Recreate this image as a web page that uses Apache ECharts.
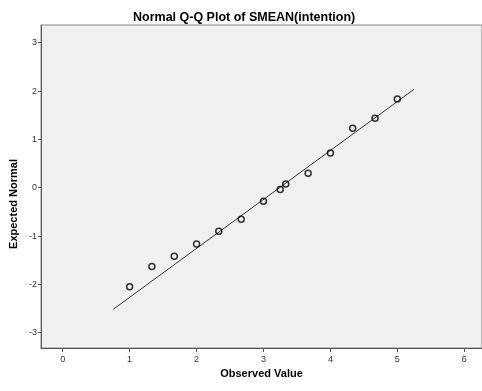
<!DOCTYPE html>
<html>
<head>
<meta charset="utf-8">
<script src="https://cdn.jsdelivr.net/npm/echarts@6/dist/echarts.min.js"></script>
<style>
  html, body { margin: 0; padding: 0; background: #ffffff; }
  #chart { width: 482px; height: 391px; }
</style>
</head>
<body>
<div id="chart"></div>
<script>
// Observed scale means and their expected normal quantiles
const observed = [1, 1.333, 1.667, 2, 2.333, 2.667, 3, 3.25, 3.333, 3.667, 4, 4.333, 4.667, 5];
const expected = [-2.05, -1.63, -1.42, -1.165, -0.90, -0.655, -0.28, -0.04, 0.077, 0.30, 0.72, 1.23, 1.435, 1.835];

// Reference line end points (observed, expected)
const refLineX = [0.756, 5.25];
const refLineY = [-2.516, 2.036];

// Tick labels
const xTicks = [0, 1, 2, 3, 4, 5, 6];
const yTicks = [-3, -2, -1, 0, 1, 2, 3];

const FONT = 'Liberation Sans, Arial, sans-serif';

const chart = echarts.init(document.getElementById('chart'), null, { renderer: 'canvas' });

chart.setOption({
  animation: false,
  backgroundColor: '#ffffff',
  title: {
    text: 'Normal Q-Q Plot of SMEAN(intention)',
    left: 128,
    top: 6,
    textStyle: { fontFamily: FONT, fontSize: 12.5, fontWeight: 'bold', color: '#000' }
  },
  grid: {
    left: 41, right: 0, top: 25, bottom: 43,
    show: true,
    backgroundColor: '#f0f0f0',
    borderColor: '#8c8c8c',
    borderWidth: 1
  },
  xAxis: {
    type: 'value',
    min: -0.324,
    max: 6.265,
    name: 'Observed Value',
    nameLocation: 'middle',
    nameGap: 18,
    nameTextStyle: { fontFamily: FONT, fontSize: 11, fontWeight: 'bold', color: '#000', verticalAlign: 'top' },
    axisLine: { onZero: false, lineStyle: { color: '#555', width: 1 } },
    axisTick: { show: true, length: 4, lineStyle: { color: '#555' }, customValues: xTicks },
    axisLabel: { fontFamily: FONT, fontSize: 9, color: '#333', margin: 7, customValues: xTicks },
    splitLine: { show: false }
  },
  yAxis: {
    type: 'value',
    min: -3.317,
    max: 3.366,
    axisLine: { onZero: false, lineStyle: { color: '#555', width: 1 } },
    axisTick: { show: true, length: 3, lineStyle: { color: '#555' }, customValues: yTicks },
    axisLabel: { fontFamily: FONT, fontSize: 9, color: '#333', margin: 4, customValues: yTicks },
    splitLine: { show: false }
  },
  graphic: [{
    type: 'text',
    x: 14,
    y: 204,
    rotation: Math.PI / 2,
    style: {
      text: 'Expected Normal',
      fontFamily: FONT,
      fontSize: 11,
      fontWeight: 'bold',
      fill: '#000',
      align: 'center',
      verticalAlign: 'middle'
    }
  }],
  series: [
    {
      type: 'line',
      data: refLineX.map((x, i) => [x, refLineY[i]]),
      symbol: 'none',
      lineStyle: { color: '#333', width: 1 },
      silent: true,
      z: 2
    },
    {
      type: 'scatter',
      data: observed.map((x, i) => [x, expected[i]]),
      symbol: 'circle',
      symbolSize: 6,
      itemStyle: { color: 'rgba(0,0,0,0)', borderColor: '#000', borderWidth: 1.5 },
      z: 3
    }
  ]
});
</script>
</body>
</html>
